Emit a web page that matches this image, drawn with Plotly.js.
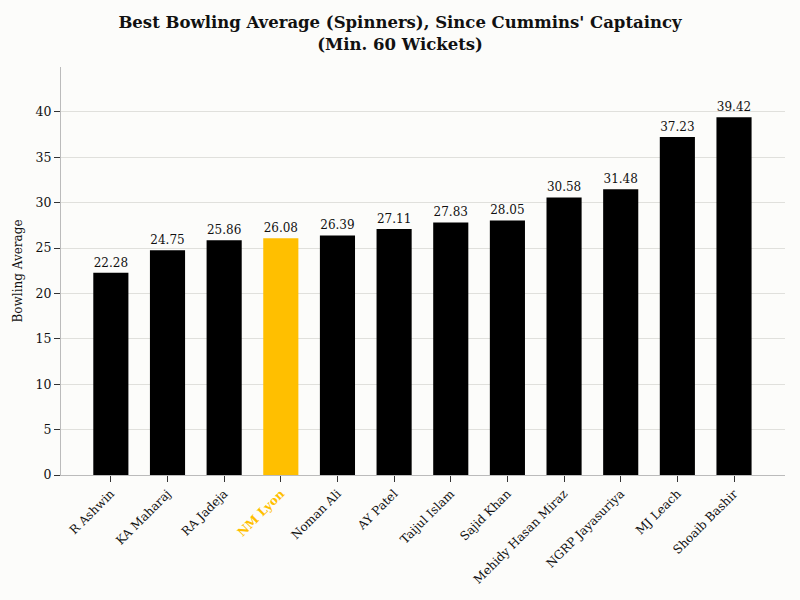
<!DOCTYPE html>
<html>
<head>
<meta charset="utf-8">
<script src="https://cdn.plot.ly/plotly-3.0.1.min.js"></script>
<style>
  body { margin: 0; background: #fcfcfa; }
  #chart { width: 800px; height: 600px; }
</style>
</head>
<body>
<div id="chart"></div>
<script>
const players = ["R Ashwin", "KA Maharaj", "RA Jadeja", "NM Lyon", "Noman Ali", "AY Patel",
  "Taijul Islam", "Sajid Khan", "Mehidy Hasan Miraz", "NGRP Jayasuriya", "MJ Leach", "Shoaib Bashir"]
const averages = [22.28, 24.75, 25.86, 26.08, 26.39, 27.11, 27.83, 28.05, 30.58, 31.48, 37.23, 39.42]
const highlight = "NM Lyon"

const gold = "#ffbf00"
const font = "Georgia, 'DejaVu Serif', serif"

const colors = players.map((p) => (p == highlight ? gold : "#000000"))

// colour the highlighted tick label
const tickText = players.map((p) =>
  p == highlight ? `<span style="color:${gold}"><b>${p}</b></span>` : p
)

const trace = {
  x: players,
  y: averages,
  type: "bar",
  marker: { color: colors },
  text: averages.map((v) => v.toFixed(2)),
  textposition: "outside",
  textfont: { family: font, size: 12, color: "#111" },
  cliponaxis: false,
  hoverinfo: "x+y",
}

const layout = {
  width: 800,
  height: 600,
  paper_bgcolor: "#fcfcfa",
  plot_bgcolor: "#fcfcfa",
  font: { family: font, color: "#111" },
  margin: { l: 61, r: 15, t: 67, b: 125 },
  bargap: 0.38,
  showlegend: false,
  title: {
    text: "<b>Best Bowling Average (Spinners), Since Cummins' Captaincy<br>(Min. 60 Wickets)</b>",
    x: 0.5,
    xanchor: "center",
    y: 0.953,
    yanchor: "top",
    font: { family: font, size: 16.5, color: "#111" },
  },
  xaxis: {
    tickmode: "array",
    tickvals: players,
    ticktext: tickText,
    tickangle: -45,
    tickfont: { family: font, size: 12, color: "#111" },
    ticks: "outside",
    ticklen: 6,
    tickcolor: "#333",
    showline: true,
    linecolor: "#bbbbbb",
    linewidth: 1,
    range: [-0.88, 11.9],
  },
  yaxis: {
    title: { text: "Bowling Average", font: { family: font, size: 12, color: "#111" }, standoff: 10 },
    range: [0, 44.95],
    dtick: 5,
    tickfont: { family: font, size: 12.5, color: "#111" },
    ticks: "outside",
    ticklen: 6,
    tickcolor: "#333",
    showline: true,
    linecolor: "#bbbbbb",
    linewidth: 1,
    gridcolor: "#e0e0dc",
    zeroline: false,
  },
}

Plotly.newPlot("chart", [trace], layout, { displayModeBar: false })
</script>
</body>
</html>
